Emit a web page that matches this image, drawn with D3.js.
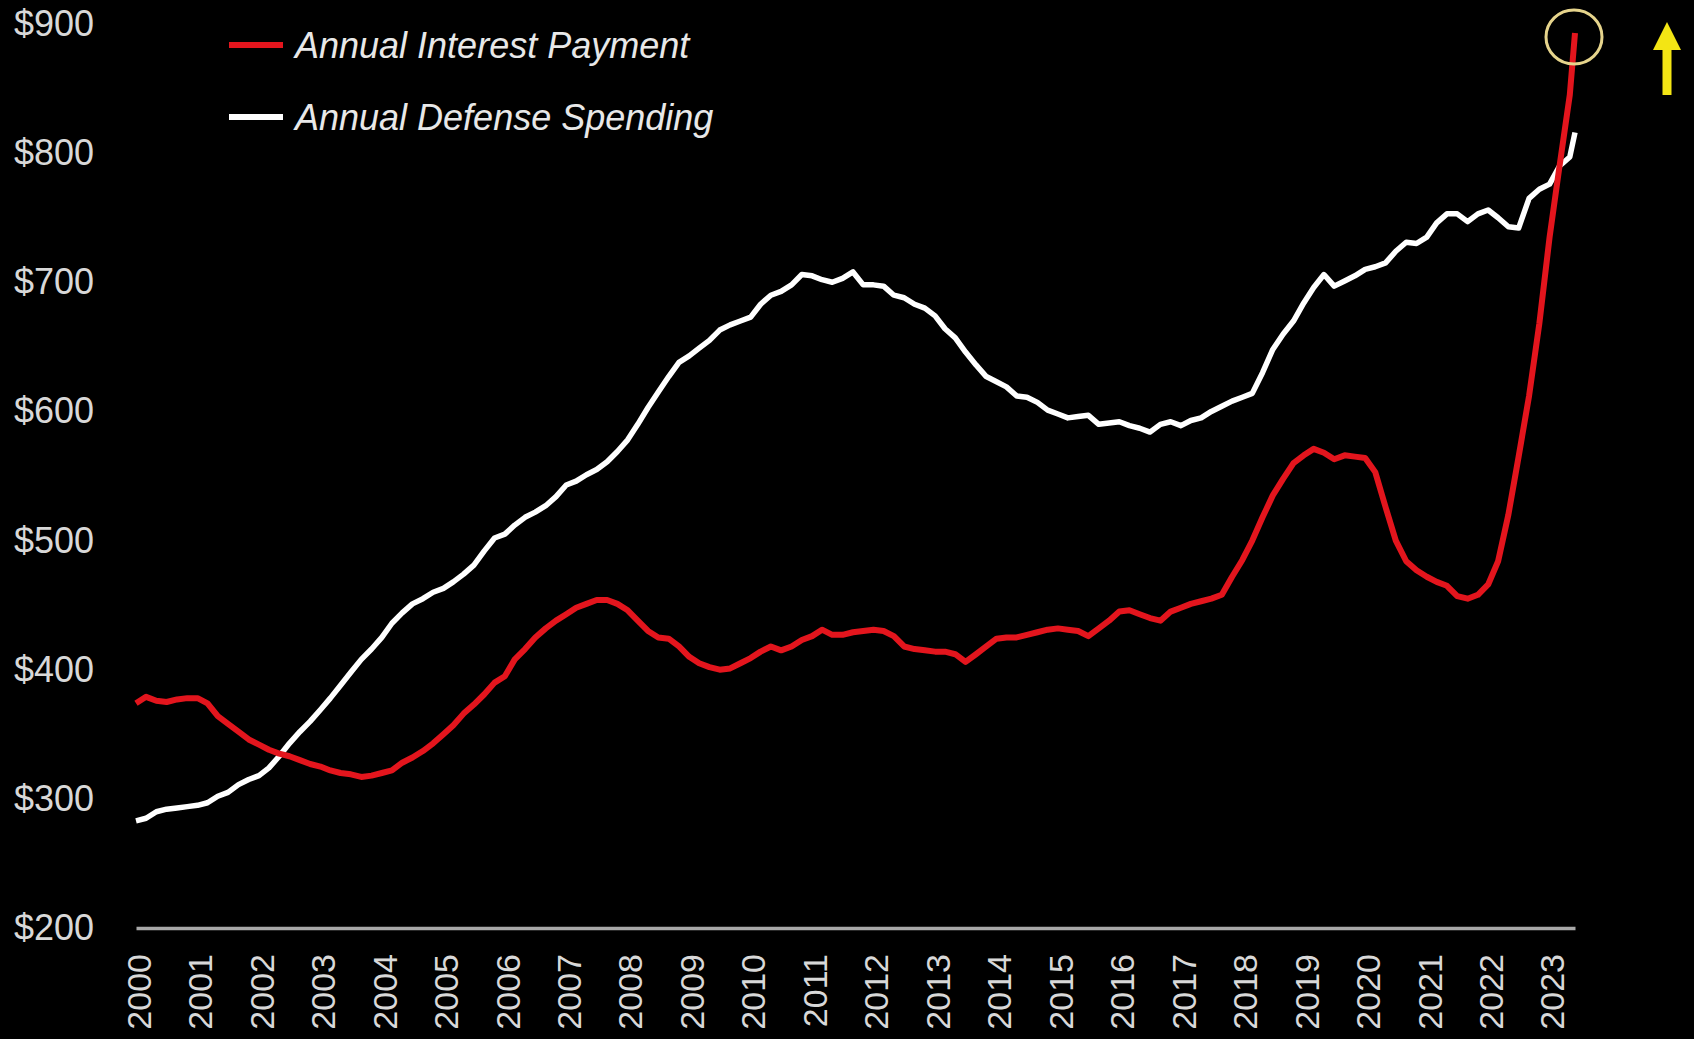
<!DOCTYPE html>
<html>
<head>
<meta charset="utf-8">
<script src="https://cdn.jsdelivr.net/npm/d3@7"></script>
<style>
  html, body { margin: 0; padding: 0; background: #000; }
  svg { display: block; }
</style>
</head>
<body>
<svg id="chart" width="1694" height="1039"></svg>
<script>
// Sampling: every two months from Jan 2000, last sample June 2023 ($ billions, annualised)
const periods = [];
for (let yr = 2000; yr <= 2023; yr++) {
  for (let m = 0; m < 12; m += 2) {
    if (yr === 2023 && m > 4) break;
    periods.push(`${yr}-${String(m + 1).padStart(2, "0")}`);
  }
}
periods.push("2023-06");

const interestPayment = [
  374, 379, 376, 375, 377, 378,   // 2000
  378, 374, 364, 358, 352, 346,   // 2001
  342, 338, 335, 333, 330, 327,   // 2002
  325, 322, 320, 319, 317, 318,   // 2003
  320, 322, 328, 332, 337, 343,   // 2004
  350, 357, 366, 373, 381, 390,   // 2005
  395, 408, 416, 425, 432, 438,   // 2006
  443, 448, 451, 454, 454, 451,   // 2007
  446, 438, 430, 425, 424, 418,   // 2008
  410, 405, 402, 400, 401, 405,   // 2009
  409, 414, 418, 415, 418, 423,   // 2010
  426, 431, 427, 427, 429, 430,   // 2011
  431, 430, 426, 418, 416, 415,   // 2012
  414, 414, 412, 406, 412, 418,   // 2013
  424, 425, 425, 427, 429, 431,   // 2014
  432, 431, 430, 426, 432, 438,   // 2015
  445, 446, 443, 440, 438, 445,   // 2016
  448, 451, 453, 455, 458, 472,   // 2017
  485, 500, 518, 535, 548, 560,   // 2018
  566, 571, 568, 563, 566, 565,   // 2019
  564, 553, 526, 500, 484, 477,   // 2020
  472, 468, 465, 457, 455, 458,   // 2021
  466, 484, 520, 565, 612, 668,   // 2022
  735, 790, 845, 893              // 2023
];

const defenseSpending = [
  283, 285, 290, 292, 293, 294,   // 2000
  295, 297, 302, 305, 311, 315,   // 2001
  318, 324, 333, 343, 352, 360,   // 2002
  369, 378, 388, 398, 408, 416,   // 2003
  425, 436, 444, 451, 455, 460,   // 2004
  463, 468, 474, 481, 492, 502,   // 2005
  505, 512, 518, 522, 527, 534,   // 2006
  543, 546, 551, 555, 561, 569,   // 2007
  578, 590, 603, 615, 627, 638,   // 2008
  643, 649, 655, 663, 667, 670,   // 2009
  673, 683, 690, 693, 698, 706,   // 2010
  705, 702, 700, 703, 708, 698,   // 2011
  698, 697, 690, 688, 683, 680,   // 2012
  674, 664, 657, 646, 636, 627,   // 2013
  623, 619, 612, 611, 607, 601,   // 2014
  598, 595, 596, 597, 590, 591,   // 2015
  592, 589, 587, 584, 590, 592,   // 2016
  589, 593, 595, 600, 604, 608,   // 2017
  611, 614, 630, 648, 660, 670,   // 2018
  684, 696, 706, 697, 701, 705,   // 2019
  710, 712, 715, 724, 731, 730,   // 2020
  735, 746, 753, 753, 747, 753,   // 2021
  756, 750, 743, 742, 765, 772,   // 2022
  776, 790, 797, 816              // 2023
];

const yTicks = [200, 300, 400, 500, 600, 700, 800, 900];
const yearTicks = d3.range(2000, 2024);

const seriesNames = ["Annual Interest Payment", "Annual Defense Spending"];
const seriesColors = ["#e3151d", "#ffffff"];

const parse = d3.timeParse("%Y-%m");
const dates = periods.map(parse);

const svg = d3.select("#chart");
svg.append("rect").attr("width", 1694).attr("height", 1039).attr("fill", "#000");

const x = d3.scaleTime()
  .domain([parse("2000-01"), parse("2023-06")])
  .range([136, 1575]);

const y = d3.scaleLinear()
  .domain([200, 900])
  .range([928, 24]);

// x axis: baseline plus vertical year labels
const xAxis = svg.append("g")
  .attr("transform", "translate(0,928)")
  .call(d3.axisBottom(x)
    .tickValues(yearTicks.map(yr => new Date(yr, 0, 1)))
    .tickFormat(d3.timeFormat("%Y"))
    .tickSize(0)
    .tickSizeOuter(0));
xAxis.select(".domain")
  .attr("stroke", "#a8a8a8")
  .attr("stroke-width", 3.5);
xAxis.selectAll(".tick text")
  .attr("transform", "rotate(-90)")
  .attr("x", -26)
  .attr("y", 2)
  .attr("dy", "0.36em")
  .attr("text-anchor", "end")
  .attr("fill", "#d8d8d8")
  .style("font-family", "'Liberation Sans', Arial, sans-serif")
  .style("font-size", "34px");

// y axis: dollar labels only
const yAxis = svg.append("g")
  .attr("transform", "translate(94,0)")
  .call(d3.axisLeft(y)
    .tickValues(yTicks)
    .tickFormat(d => "$" + d)
    .tickSize(0)
    .tickPadding(0));
yAxis.select(".domain").remove();
yAxis.selectAll(".tick text")
  .attr("fill", "#d8d8d8")
  .style("font-family", "'Liberation Sans', Arial, sans-serif")
  .style("font-size", "36px");

// series lines
const line = d3.line()
  .x((d, i) => x(dates[i]))
  .y(d => y(d))
  .curve(d3.curveLinear);

svg.append("path")
  .datum(defenseSpending)
  .attr("fill", "none")
  .attr("stroke", seriesColors[1])
  .attr("stroke-width", 5.5)
  .attr("stroke-linejoin", "round")
  .attr("d", line);

svg.append("path")
  .datum(interestPayment)
  .attr("fill", "none")
  .attr("stroke", seriesColors[0])
  .attr("stroke-width", 6)
  .attr("stroke-linejoin", "round")
  .attr("d", line);

// legend
const legend = svg.append("g");
seriesNames.forEach((name, i) => {
  const ly = 45 + i * 72;
  legend.append("line")
    .attr("x1", 229).attr("x2", 283)
    .attr("y1", ly).attr("y2", ly)
    .attr("stroke", seriesColors[i])
    .attr("stroke-width", 6);
  legend.append("text")
    .attr("x", 295)
    .attr("y", ly)
    .attr("dy", "0.36em")
    .attr("fill", "#e8e8e8")
    .style("font-family", "'Liberation Sans', Arial, sans-serif")
    .style("font-style", "italic")
    .style("font-size", "36px")
    .text(name);
});

// highlight on the latest interest reading
const lastIdx = interestPayment.length - 1;
svg.append("ellipse")
  .attr("cx", x(dates[lastIdx]) - 1)
  .attr("cy", y(interestPayment[lastIdx]) + 4)
  .attr("rx", 28)
  .attr("ry", 27)
  .attr("fill", "none")
  .attr("stroke", "#e6d48c")
  .attr("stroke-width", 3);

// upward arrow
svg.append("path")
  .attr("d", "M1667,22 L1681,50 L1671.5,50 L1671.5,95 L1662.5,95 L1662.5,50 L1653,50 Z")
  .attr("fill", "#f3e514");
</script>
</body>
</html>
